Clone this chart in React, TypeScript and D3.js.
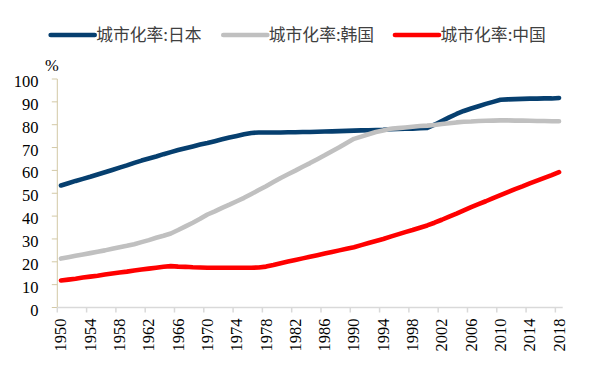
import React, { useEffect, useRef } from "react";
import * as d3 from "d3";

const years: number[] = [
  1950, 1951, 1952, 1953, 1954, 1955, 1956, 1957, 1958, 1959,
  1960, 1961, 1962, 1963, 1964, 1965, 1966, 1967, 1968, 1969,
  1970, 1971, 1972, 1973, 1974, 1975, 1976, 1977, 1978, 1979,
  1980, 1981, 1982, 1983, 1984, 1985, 1986, 1987, 1988, 1989,
  1990, 1991, 1992, 1993, 1994, 1995, 1996, 1997, 1998, 1999,
  2000, 2001, 2002, 2003, 2004, 2005, 2006, 2007, 2008, 2009,
  2010, 2011, 2012, 2013, 2014, 2015, 2016, 2017, 2018,
];

const japan: number[] = [
  53.4, 54.4, 55.4, 56.3, 57.2, 58.2, 59.2, 60.2, 61.2, 62.2,
  63.3, 64.3, 65.2, 66.1, 67.1, 68.0, 68.9, 69.7, 70.5, 71.3,
  72.0, 72.8, 73.6, 74.4, 75.1, 75.8, 76.4, 76.6, 76.6, 76.6,
  76.6, 76.7, 76.7, 76.8, 76.8, 76.9, 77.0, 77.1, 77.2, 77.3,
  77.4, 77.5, 77.6, 77.7, 77.8, 78.0, 78.1, 78.2, 78.3, 78.5,
  78.6, 80.0, 81.6, 83.2, 84.7, 86.0, 87.1, 88.1, 89.1, 90.0,
  90.9, 91.1, 91.2, 91.3, 91.4, 91.4, 91.5, 91.5, 91.7,
];

const korea: number[] = [
  21.4, 22.0, 22.6, 23.2, 23.8, 24.4, 25.0, 25.7, 26.4, 27.0,
  27.7, 28.6, 29.5, 30.5, 31.4, 32.4, 33.9, 35.5, 37.1, 38.8,
  40.7, 42.1, 43.6, 45.0, 46.5, 48.0, 49.7, 51.4, 53.1, 54.9,
  56.7, 58.3, 59.9, 61.6, 63.2, 64.9, 66.6, 68.4, 70.1, 72.0,
  73.8, 74.8, 75.8, 76.8, 77.5, 78.2, 78.5, 78.8, 79.1, 79.4,
  79.6, 79.9, 80.3, 80.6, 81.0, 81.3, 81.4, 81.6, 81.7, 81.8,
  81.9, 81.9, 81.8, 81.8, 81.7, 81.6, 81.6, 81.5, 81.5,
];

const china: number[] = [
  11.8, 12.2, 12.6, 13.1, 13.5, 13.9, 14.4, 14.9, 15.3, 15.7,
  16.2, 16.6, 17.0, 17.4, 17.8, 18.1, 17.9, 17.8, 17.6, 17.5,
  17.4, 17.4, 17.4, 17.4, 17.4, 17.4, 17.4, 17.5, 17.9, 18.6,
  19.4, 20.1, 20.8, 21.5, 22.2, 22.9, 23.6, 24.3, 25.0, 25.7,
  26.4, 27.3, 28.2, 29.1, 30.0, 31.0, 32.0, 33.0, 33.9, 34.9,
  35.9, 37.1, 38.4, 39.8, 41.1, 42.5, 43.9, 45.2, 46.5, 47.9,
  49.2, 50.5, 51.8, 53.0, 54.3, 55.5, 56.7, 57.9, 59.2,
];

const seriesNames: string[] = ["城市化率:日本", "城市化率:韩国", "城市化率:中国"];
const seriesColors: string[] = ["#063f6f", "#c0c0c0", "#ff0000"];
const yTicks: number[] = [0, 10, 20, 30, 40, 50, 60, 70, 80, 90, 100];
const xTickYears: number[] = [
  1950, 1954, 1958, 1962, 1966, 1970, 1974, 1978, 1982,
  1986, 1990, 1994, 1998, 2002, 2006, 2010, 2014, 2018,
];

const W = 590;
const H = 366;
const LEFT = 57.3;
const RIGHT = 562.7;
const TOP = 79;
const BOTTOM = 307.5;
const SERIF = "Times New Roman";
const CJK = "Noto Sans CJK SC";

export default function App() {
  const ref = useRef<SVGSVGElement | null>(null);

  useEffect(() => {
    const svg = d3.select(ref.current);
    svg.selectAll("*").remove();

    const x = d3.scaleBand<number>().domain(years).range([LEFT, RIGHT]).padding(0);
    const y = d3.scaleLinear().domain([0, 100]).range([BOTTOM, TOP]);
    const cx = (yr: number) => (x(yr) as number) + x.bandwidth() / 2;
    const legendX = [50.7, 223.3, 395];

    // legend
    seriesNames.forEach((name, i) => {
      svg.append("line")
        .attr("x1", legendX[i]).attr("x2", legendX[i] + 44)
        .attr("y1", 35).attr("y2", 35)
        .attr("stroke", seriesColors[i]).attr("stroke-width", 4.7)
        .attr("stroke-linecap", "round");
      svg.append("text")
        .attr("x", legendX[i] + 45.5).attr("y", 41)
        .attr("font-family", CJK).attr("font-size", 16.8)
        .attr("fill", "#404040")
        .text(name);
    });

    svg.append("text")
      .attr("x", 45).attr("y", 71)
      .attr("font-family", SERIF).attr("font-size", 16.5)
      .text("%");

    // y axis
    svg.append("line")
      .attr("x1", LEFT).attr("x2", LEFT).attr("y1", TOP).attr("y2", BOTTOM)
      .attr("stroke", "#d3c9a6");
    yTicks.forEach((t) => {
      svg.append("line")
        .attr("x1", LEFT - 5.5).attr("x2", LEFT).attr("y1", y(t)).attr("y2", y(t))
        .attr("stroke", "#d3c9a6");
      svg.append("text")
        .attr("x", 38.5).attr("y", y(t) + 8)
        .attr("text-anchor", "end")
        .attr("font-family", SERIF).attr("font-size", 16.5)
        .text(String(t));
    });

    // x axis
    svg.append("line")
      .attr("x1", LEFT).attr("x2", RIGHT).attr("y1", BOTTOM).attr("y2", BOTTOM)
      .attr("stroke", "#d9d9d9").attr("stroke-width", 1.5);
    xTickYears.forEach((yr) => {
      const tx = x(yr) as number;
      svg.append("line")
        .attr("x1", tx).attr("x2", tx).attr("y1", BOTTOM).attr("y2", BOTTOM + 5)
        .attr("stroke", "#d9d9d9").attr("stroke-width", 1.5);
      svg.append("text")
        .attr("transform", `translate(${cx(yr) + 5.5},${BOTTOM + 11}) rotate(-90)`)
        .attr("text-anchor", "end")
        .attr("font-family", SERIF).attr("font-size", 16.5)
        .text(String(yr));
    });

    const line = d3.line<number>()
      .x((_, i) => cx(years[i]))
      .y((d) => y(d));

    [japan, korea, china].forEach((s, i) => {
      svg.append("path")
        .attr("d", line(s) || "")
        .attr("fill", "none")
        .attr("stroke", seriesColors[i])
        .attr("stroke-width", 4.6)
        .attr("stroke-linecap", "round")
        .attr("stroke-linejoin", "round");
    });
  }, []);

  return (
    <svg
      ref={ref}
      width={W}
      height={H}
      style={{ display: "block", margin: "-8px 0 0 -8px" }}
    />
  );
}
